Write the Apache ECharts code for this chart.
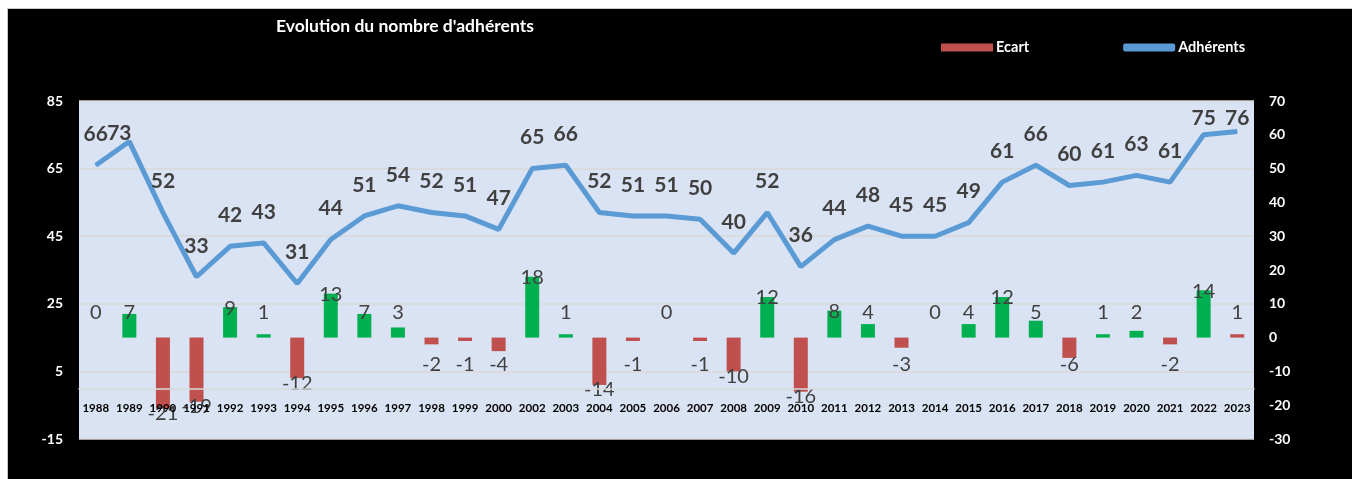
<!DOCTYPE html>
<html>
<head>
<meta charset="utf-8">
<script src="https://cdn.jsdelivr.net/npm/echarts@6/dist/echarts.min.js"></script>
<style>
html,body{margin:0;padding:0;background:#fff;}
#frame{position:absolute;left:7px;top:8px;width:1345px;height:471px;background:#000;border-left:1px solid #c8c8c8;border-top:1px solid #c8c8c8;}
#chart{position:absolute;left:0;top:0;width:1352px;height:479px;}
</style>
</head>
<body>
<div id="frame"></div>
<div id="chart"></div>
<script>
const years = ['1988','1989','1990','1991','1992','1993','1994','1995','1996','1997','1998','1999','2000','2002','2003','2004','2005','2006','2007','2008','2009','2010','2011','2012','2013','2014','2015','2016','2017','2018','2019','2020','2021','2022','2023'];
const adherents = [66,73,52,33,42,43,31,44,51,54,52,51,47,65,66,52,51,51,50,40,52,36,44,48,45,45,49,61,66,60,61,63,61,75,76];
const ecart = [0,7,-21,-19,9,1,-12,13,7,3,-2,-1,-4,18,1,-14,-1,0,-1,-10,12,-16,8,4,-3,0,4,12,5,-6,1,2,-2,14,1];
const leftTicks = [-15,5,25,45,65,85];
const rightTicks = [-30,-20,-10,0,10,20,30,40,50,60,70];

const GREEN = '#00b050', RED = '#c0504d', BLUE = '#5b9bd5';
const FONT = 'Lato';
const pxPerUnit = 338 / 100;
const half = 11;

const barData = ecart.map((v, i) => {
  const isPos = v > 0 && years[i] !== '2023';
  let label;
  if (v >= 0) {
    label = {position: 'top', distance: Math.max(0, 25.6 - pxPerUnit * v) - half};
  } else {
    label = {position: 'bottom', distance: Math.max(17.4 - pxPerUnit * Math.abs(v), -5)};
  }
  return {value: v, itemStyle: {color: isPos ? GREEN : RED}, label: label};
});

// keep line labels from rising above the upper band of the plot (as in the original)
const lineData = adherents.map((v, i) => {
  const py = 439 - (v + 15) * pxPerUnit;
  let d = Math.min(20, py - 129);
  let lbl = {distance: d};
  if (years[i] === '1989') lbl = {distance: -3, offset: [-10, 0]};
  return {value: v, label: lbl};
});

const chart = echarts.init(document.getElementById('chart'), null, {renderer: 'canvas'});
chart.setOption({
  backgroundColor: 'transparent',
  animation: false,
  title: {
    text: "Evolution du nombre d'adhérents",
    left: 271, top: 12,
    textStyle: {color: '#fff', fontFamily: FONT, fontSize: 17.5, fontWeight: 'bold'}
  },
  legend: {
    left: 936, top: 35,
    itemWidth: 52, itemHeight: 8, itemGap: 94,
    textStyle: {color: '#fff', fontFamily: FONT, fontSize: 14.5, fontWeight: 'bold', padding: [0,0,0,-2]},
    data: [{name: 'Ecart', icon: 'rect'}, {name: 'Adhérents', icon: 'roundRect'}]
  },
  grid: {left: 79, right: 98, top: 101, bottom: 40, show: true, backgroundColor: '#dae3f3', borderWidth: 0},
  xAxis: [
    {
      type: 'category',
      data: years,
      position: 'bottom',
      axisLine: {show: false, onZero: false},
      axisTick: {show: false},
      axisLabel: {show: true, color: '#000', fontFamily: FONT, fontSize: 11.5, fontWeight: 'bold', margin: -37, interval: 0, hideOverlap: false},
      z: 5
    },
    {
      type: 'category',
      data: years,
      position: 'bottom',
      axisLine: {show: true, onZero: true, onZeroAxisIndex: 0, lineStyle: {color: '#d9d9d9', width: 1.5}},
      axisTick: {show: false},
      axisLabel: {show: false},
      z: 5
    }
  ],
  yAxis: [
    {
      type: 'value', min: -15, max: 85, interval: 20,
      axisLine: {show: false}, axisTick: {show: false},
      axisLabel: {color: '#fff', fontFamily: FONT, fontSize: 14, fontWeight: 'bold', margin: 16},
      splitLine: {lineStyle: {color: '#d9d9d9', width: 1.5}}
    },
    {
      type: 'value', min: -30, max: 70, interval: 10,
      axisLine: {show: false}, axisTick: {show: false},
      axisLabel: {color: '#fff', fontFamily: FONT, fontSize: 14, fontWeight: 'bold', margin: 15, align: 'left'},
      splitLine: {show: false}
    }
  ],
  series: [
    {
      name: 'Ecart', type: 'bar', xAxisIndex: 0, yAxisIndex: 1, barWidth: 14,
      itemStyle: {color: RED},
      data: barData,
      label: {show: true, color: '#404040', fontFamily: FONT, fontSize: 20, fontWeight: 'normal'},
      z: 2
    },
    {
      name: 'Adhérents', type: 'line', xAxisIndex: 0, yAxisIndex: 0,
      data: lineData,
      symbol: 'circle', symbolSize: 1, showSymbol: true,
      lineStyle: {color: BLUE, width: 5},
      itemStyle: {color: BLUE},
      label: {show: true, position: 'top', distance: 20, color: '#404040', fontFamily: FONT, fontSize: 21, fontWeight: 'bold'},
      z: 4
    }
  ]
});
</script>
</body>
</html>
